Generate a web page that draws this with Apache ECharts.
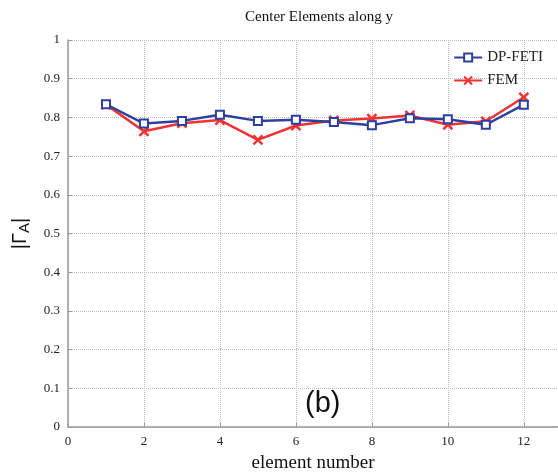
<!DOCTYPE html>
<html><head><meta charset="utf-8">
<script src="https://cdn.jsdelivr.net/npm/echarts@6/dist/echarts.min.js"></script>
<style>html,body{margin:0;padding:0;background:#fff}#c{width:558px;height:473px}</style>
</head><body><div id="c"></div>
<script>
const elements = [1,2,3,4,5,6,7,8,9,10,11,12];
const dpFeti = [0.834,0.784,0.791,0.807,0.791,0.794,0.788,0.780,0.798,0.795,0.781,0.833];
const fem = [0.833,0.764,0.785,0.793,0.742,0.779,0.792,0.797,0.805,0.781,0.790,0.852];
const xTicks = [0,2,4,6,8,10,12];
const yTicks = [0,0.1,0.2,0.3,0.4,0.5,0.6,0.7,0.8,0.9,1];

const chart = echarts.init(document.getElementById('c'));
const serif = '"Liberation Serif","DejaVu Serif",serif';
const sans = '"Liberation Sans",Arial,sans-serif';
const pairs = a => elements.map((x,i)=>[x,a[i]]);
chart.setOption({
  animation:false,
  title:{text:'Center Elements along y',left:314,top:5,textAlign:'center',
    textStyle:{fontFamily:serif,fontWeight:'normal',fontSize:15,color:'#111'}},
  grid:{left:68,top:40,right:0,height:387,outerBoundsMode:'none',containLabel:false},
  legend:{right:10,top:45,orient:'vertical',itemGap:8,itemWidth:28,itemHeight:10,
    textStyle:{fontFamily:serif,fontSize:15,color:'#222'},
    data:['DP-FETI','FEM']},
  xAxis:{type:'value',min:0,max:12.9,interval:2,
    axisLine:{lineStyle:{color:'#999',width:1.5}},
    axisTick:{inside:true,length:4,lineStyle:{color:'#999'}},
    axisLabel:{fontFamily:serif,fontSize:13,color:'#222',margin:8,
      formatter:v=>xTicks.indexOf(v)>=0?String(v):''},
    splitLine:{show:true,lineStyle:{type:'dotted',color:'#bbb'}},
    name:'element number',nameLocation:'middle',nameGap:27,
    nameTextStyle:{fontFamily:serif,fontSize:19,color:'#111'}},
  yAxis:{type:'value',min:0,max:1,interval:0.1,
    axisLine:{show:true,lineStyle:{color:'#999',width:1.5}},
    axisTick:{show:true,inside:true,length:4,lineStyle:{color:'#999'}},
    axisLabel:{fontFamily:serif,fontSize:13,color:'#222',margin:8,
      formatter:v=>String(Math.round(v*10)/10)},
    splitLine:{show:true,lineStyle:{type:'dotted',color:'#bbb'}},
    name:'|Γ{s|A}|',nameLocation:'middle',nameGap:36,nameRotate:90,
    nameTextStyle:{fontFamily:sans,fontSize:20,color:'#111',
      rich:{s:{fontFamily:sans,fontSize:15,color:'#111',verticalAlign:'bottom',padding:[9,0,0,0]}}}},
  graphic:[{type:'text',left:305,top:389,style:{text:'(b)',fontFamily:sans,fontSize:29,fill:'#111'}}],
  series:[
    {name:'DP-FETI',type:'line',data:pairs(dpFeti),symbol:'rect',symbolSize:8,
      lineStyle:{color:'#2f3fa0',width:2.5},
      itemStyle:{color:'#fff',borderColor:'#2f3fa0',borderWidth:2},z:3},
    {name:'FEM',type:'line',data:pairs(fem),
      symbol:'path://M0,0 L10,10 M10,0 L0,10',symbolSize:9,
      lineStyle:{color:'#ee3333',width:2.5},
      itemStyle:{color:'#ee3333',borderColor:'#ee3333',borderWidth:2.5},z:2}
  ]
});
</script></body></html>
